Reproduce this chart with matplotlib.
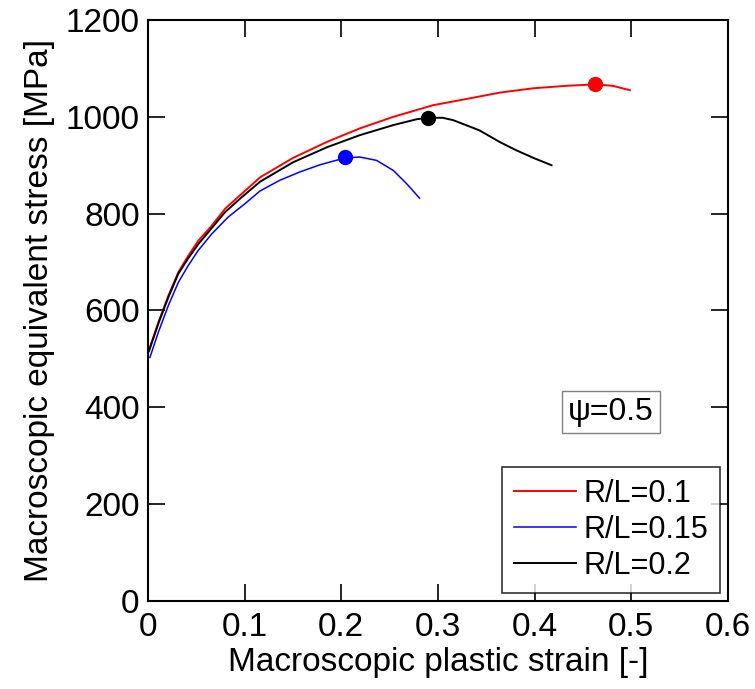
import matplotlib.pyplot as plt
import numpy as np

plt.rcParams['font.family'] = ['Liberation Sans', 'DejaVu Sans']

# R/L = 0.1
red_strain = [0.001, 0.0107, 0.021, 0.0314, 0.0417, 0.052, 0.0659, 0.0797, 0.097, 0.116,
              0.150, 0.185, 0.219, 0.254, 0.295, 0.33, 0.364, 0.399, 0.433, 0.463, 0.481, 0.4986]
red_stress = [518, 575, 630, 679, 713, 744, 775, 810, 841, 875,
              915, 948, 976, 1000, 1024, 1037, 1050, 1059, 1064, 1067, 1064, 1055]
red_peak = (0.463, 1067)

# R/L = 0.15
blue_strain = [0.002, 0.0107, 0.021, 0.0314, 0.0417, 0.052, 0.0659, 0.083, 0.1, 0.116,
               0.1365, 0.157, 0.178, 0.2038, 0.219, 0.2366, 0.254, 0.2676, 0.281]
blue_stress = [503, 555, 610, 658, 693, 724, 758, 793, 820, 847,
               869, 886, 901, 915, 917, 910, 889, 862, 832]
blue_peak = (0.2038, 916)

# R/L = 0.2
black_strain = [0.001, 0.0107, 0.021, 0.0314, 0.0417, 0.052, 0.0659, 0.0797, 0.097, 0.116,
                0.150, 0.185, 0.219, 0.254, 0.278, 0.29, 0.305, 0.316, 0.343, 0.364,
                0.381, 0.399, 0.4176]
black_stress = [516, 573, 627, 676, 708, 737, 770, 803, 834, 866,
                906, 937, 962, 983, 995, 998, 998, 993, 972, 948,
                931, 915, 900]
black_peak = (0.29, 998)

labels = ['R/L=0.1', 'R/L=0.15', 'R/L=0.2']

fig = plt.figure(figsize=(7.55, 6.89), dpi=100)
ax = fig.add_axes([0.196, 0.1277, 0.768, 0.8433])

ax.plot(red_strain, red_stress, color='red', lw=1.4, label=labels[0])
ax.plot(blue_strain, blue_stress, color='blue', lw=1.1, label=labels[1])
ax.plot(black_strain, black_stress, color='black', lw=1.4, label=labels[2])
ax.plot(*red_peak, 'o', color='red', ms=10)
ax.plot(*blue_peak, 'o', color='blue', ms=10)
ax.plot(*black_peak, 'o', color='black', ms=10)

ax.set_xlim(0, 0.6)
ax.set_ylim(0, 1200)
ax.set_xticks(np.arange(0, 0.61, 0.1))
ax.set_xticklabels(['0', '0.1', '0.2', '0.3', '0.4', '0.5', '0.6'])
ax.set_yticks(np.arange(0, 1201, 200))
ax.tick_params(direction='in', length=12.5, width=1.2, top=True, right=True, labelsize=24)
ax.tick_params(axis='x', pad=8)
ax.tick_params(axis='y', pad=6)
for s in ax.spines.values():
    s.set_linewidth(1.5)

ax.set_xlabel('Macroscopic plastic strain [-]', fontsize=24, labelpad=3)
ax.set_ylabel('Macroscopic equivalent stress [MPa]', fontsize=24, labelpad=8)

ax.text(0.479, 390, 'ψ=0.5', fontsize=23, ha='center', va='center',
        bbox=dict(boxstyle='square,pad=0.18', fc='white', ec='gray', lw=1))

leg = ax.legend(loc='lower right', fontsize=22, frameon=True, fancybox=False,
                edgecolor='black', handlelength=2.0, borderaxespad=0.25,
                labelspacing=0.2, borderpad=0.4, handletextpad=0.25)
leg.get_frame().set_linewidth(1.2)

fig.savefig('out.png', dpi=100)
